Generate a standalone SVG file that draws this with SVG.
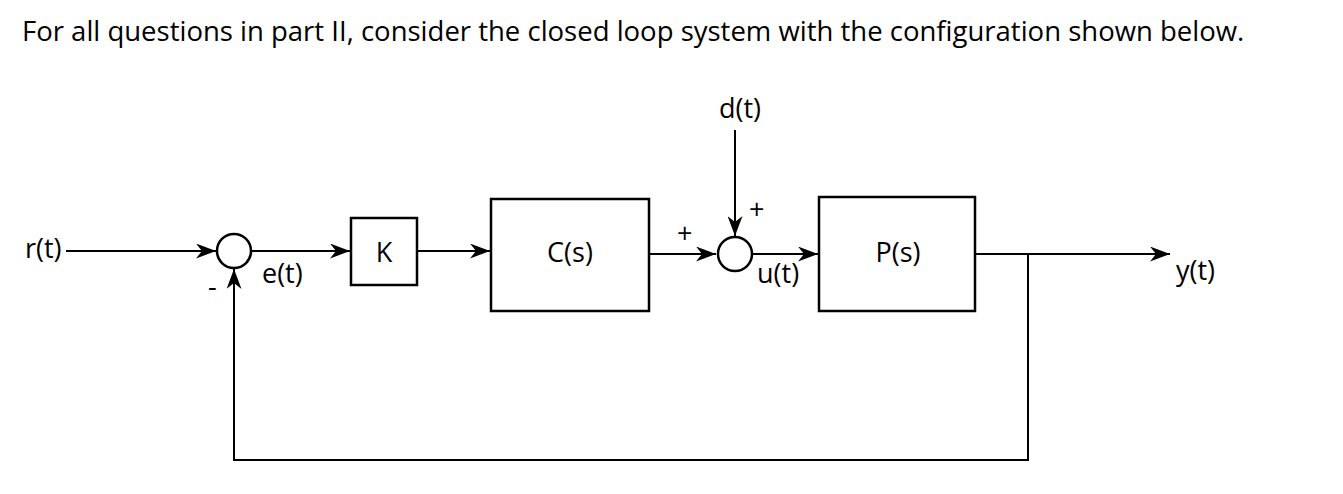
<svg xmlns="http://www.w3.org/2000/svg" width="1343" height="494" viewBox="0 0 1343 494">
<style>
text{font-family:"Open Sans","DejaVu Sans",sans-serif;fill:#000;font-size:27px}
.l{stroke:#000;stroke-width:2;fill:none}
.b{stroke:#000;stroke-width:2.5;fill:#fff}
</style>
<defs>
<marker id="ab" viewBox="0 0 10 10" refX="10" refY="5" markerWidth="20" markerHeight="15" markerUnits="userSpaceOnUse" orient="auto" preserveAspectRatio="none"><path d="M0,0 L10,5 L0,10 L3,5 z" fill="#000"/></marker></defs>
<rect width="1343" height="494" fill="#fff"/>
<text x="22" y="41" style="font-size:27.5px">For all questions in part II, consider the closed loop system with the configuration shown below.</text>
<g id="connectors">
<path class="l" d="M66,251 H216" marker-end="url(#ab)"/>
<path class="l" d="M252,251 H350" marker-end="url(#ab)"/>
<path class="l" d="M417,251 H490" marker-end="url(#ab)"/>
<path class="l" d="M649,254 H716" marker-end="url(#ab)"/>
<path class="l" d="M735,130 V236" marker-end="url(#ab)"/>
<path class="l" d="M753,254 H818" marker-end="url(#ab)"/>
<path class="l" d="M975,254 H1170" marker-end="url(#ab)"/>
<path class="l" d="M1028,254 V460 H234 V269" marker-end="url(#ab)"/>
</g>
<g id="sum1"><circle class="b" cx="234" cy="251" r="17"/></g>
<g id="sum2"><circle class="b" cx="735" cy="254" r="17"/></g>
<g id="K"><rect class="b" x="351" y="218" width="66" height="67"/><text x="384" y="262" text-anchor="middle">K</text></g>
<g id="C"><rect class="b" x="491" y="199" width="158" height="112"/><text x="570" y="262" text-anchor="middle">C(s)</text></g>
<g id="P"><rect class="b" x="819" y="197" width="156" height="114"/><text x="898" y="262" text-anchor="middle">P(s)</text></g>
<g id="labels">
<text x="25" y="258">r(t)</text>
<text x="262" y="283">e(t)</text>
<text x="208" y="296">-</text>
<text x="740" y="118" text-anchor="middle">d(t)</text>
<text x="749" y="219">+</text>
<text x="677" y="243">+</text>
<text x="757" y="283">u(t)</text>
<text x="1176" y="280">y(t)</text>
</g>
</svg>
